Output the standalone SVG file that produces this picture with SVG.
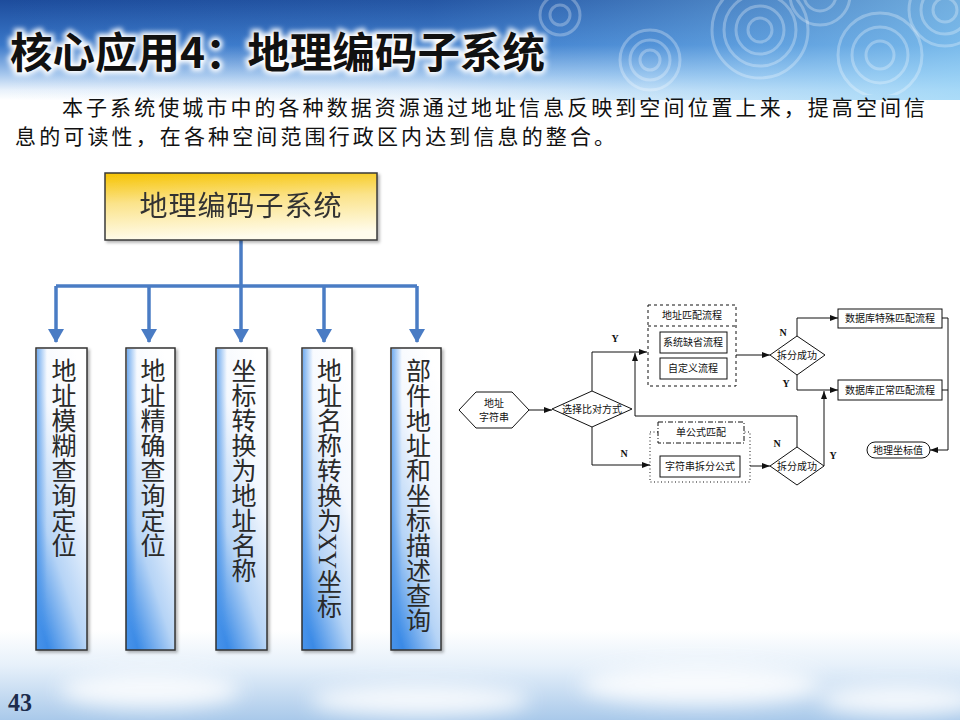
<svg xmlns="http://www.w3.org/2000/svg" width="960" height="720" viewBox="0 0 960 720">
<defs>
  <linearGradient id="topV" x1="0" y1="0" x2="0" y2="1">
    <stop offset="0" stop-color="#1d4c9c"/>
    <stop offset="0.45" stop-color="#3a78c9"/>
    <stop offset="0.75" stop-color="#a9c9ee"/>
    <stop offset="0.9" stop-color="#e8f1fb"/>
    <stop offset="1" stop-color="#ffffff"/>
  </linearGradient>
  <linearGradient id="topH" x1="0" y1="0" x2="1" y2="0">
    <stop offset="0" stop-color="#6fb4ec" stop-opacity="0"/>
    <stop offset="0.45" stop-color="#6fb4ec" stop-opacity="0.1"/>
    <stop offset="1" stop-color="#8fd0f6" stop-opacity="0.75"/>
  </linearGradient>
  <linearGradient id="botV" x1="0" y1="0" x2="0" y2="1">
    <stop offset="0" stop-color="#ffffff"/>
    <stop offset="0.4" stop-color="#e6f0fa"/>
    <stop offset="1" stop-color="#a9c9ea"/>
  </linearGradient>
  <linearGradient id="gold" x1="0" y1="0" x2="0.15" y2="1">
    <stop offset="0" stop-color="#f6c300"/>
    <stop offset="0.45" stop-color="#fbe38a"/>
    <stop offset="1" stop-color="#fffcec"/>
  </linearGradient>
  <linearGradient id="blueBar" x1="0.75" y1="0" x2="0.25" y2="1">
    <stop offset="0" stop-color="#ffffff"/>
    <stop offset="0.35" stop-color="#f4f8fe"/>
    <stop offset="0.7" stop-color="#b6d4f6"/>
    <stop offset="1" stop-color="#3a8ae6"/>
  </linearGradient>
  <linearGradient id="barEdge" x1="0" y1="0" x2="1" y2="0">
    <stop offset="0" stop-color="#4b95ea" stop-opacity="0.75"/>
    <stop offset="1" stop-color="#4b95ea" stop-opacity="0"/>
  </linearGradient>
  <filter id="glow" x="-10%" y="-30%" width="120%" height="160%">
    <feGaussianBlur stdDeviation="2.5"/>
  </filter>
  <filter id="cloud" x="-50%" y="-50%" width="200%" height="200%">
    <feGaussianBlur stdDeviation="10"/>
  </filter>
  <filter id="shadow" x="-10%" y="-10%" width="130%" height="130%">
    <feDropShadow dx="2" dy="2" stdDeviation="1.5" flood-color="#000" flood-opacity="0.3"/>
  </filter>
  <marker id="bigArrow" viewBox="0 0 14 16" refX="13" refY="8" markerWidth="14" markerHeight="16" markerUnits="userSpaceOnUse" orient="auto">
    <path d="M0,0 L14,8 L0,16 z" fill="#4a7cc4"/>
  </marker>
  <marker id="sArrow" viewBox="0 0 8 6" refX="8" refY="3" markerWidth="8" markerHeight="6" markerUnits="userSpaceOnUse" orient="auto">
    <path d="M0,0 L8,3 L0,6 z" fill="#111"/>
  </marker>
  <clipPath id="topClip"><rect x="0" y="0" width="960" height="95"/></clipPath>
</defs>
<style>
  .cjk { font-family: "Noto Sans CJK SC", "Noto Sans", sans-serif; }
  .bar { fill: url(#blueBar); stroke: #333; stroke-width: 1.5; }
  .vt { font-family: "Liberation Serif", "Noto Sans CJK SC", serif; font-size: 25px; fill: #2a2a2a; writing-mode: vertical-rl; }
  .blue { fill: none; stroke: #4a7cc4; stroke-width: 3.5; }
  .ln { fill: none; stroke: #111; stroke-width: 1; }
  .lnA { fill: none; stroke: #111; stroke-width: 1; marker-end: url(#sArrow); }
  .shape { fill: #fff; stroke: #111; stroke-width: 1; }
  .ft { font-family: "Noto Sans CJK SC", sans-serif; font-size: 10px; fill: #111; text-anchor: middle; }
  .yn { font-family: "Liberation Serif", serif; font-size: 10px; font-weight: bold; fill: #111; text-anchor: middle; }
  .ring { fill: none; stroke: #ffffff; stroke-opacity: 0.28; stroke-width: 3; }
</style>

<!-- background -->
<rect width="960" height="720" fill="#ffffff"/>
<rect x="0" y="0" width="960" height="100" fill="url(#topV)"/>
<rect x="0" y="0" width="960" height="100" fill="url(#topH)"/>
<g clip-path="url(#topClip)">
  <g class="ring">
    <circle cx="760" cy="30" r="12"/><circle cx="760" cy="30" r="24"/><circle cx="760" cy="30" r="36"/><circle cx="760" cy="30" r="48"/>
    <circle cx="880" cy="55" r="14"/><circle cx="880" cy="55" r="28"/><circle cx="880" cy="55" r="42"/>
    <circle cx="650" cy="60" r="10"/><circle cx="650" cy="60" r="20"/><circle cx="650" cy="60" r="30"/>
    <circle cx="945" cy="10" r="12"/><circle cx="945" cy="10" r="24"/><circle cx="945" cy="10" r="36"/>
    <circle cx="560" cy="15" r="10"/><circle cx="560" cy="15" r="20"/>
    <circle cx="820" cy="-5" r="16"/><circle cx="820" cy="-5" r="30"/>
  </g>
</g>
<rect x="0" y="630" width="960" height="90" fill="url(#botV)"/>
<g filter="url(#cloud)" fill="#ffffff" opacity="0.85">
  <ellipse cx="150" cy="690" rx="90" ry="18"/>
  <ellipse cx="420" cy="700" rx="110" ry="16"/>
  <ellipse cx="700" cy="685" rx="120" ry="20"/>
  <ellipse cx="900" cy="700" rx="80" ry="15"/>
</g>

<!-- title -->
<g id="title">
  <text x="10" y="68" class="cjk" font-size="42" font-weight="bold" textLength="535" lengthAdjust="spacingAndGlyphs" fill="#fff" stroke="#fff" stroke-width="6" filter="url(#glow)">核心应用4：地理编码子系统</text>
  <text x="10" y="68" class="cjk" font-size="42" font-weight="bold" textLength="535" lengthAdjust="spacingAndGlyphs" fill="#111">核心应用4：地理编码子系统</text>
</g>
<g id="intro" class="cjk" font-size="21" fill="#111">
  <text x="62" y="115" textLength="863" lengthAdjust="spacing">本子系统使城市中的各种数据资源通过地址信息反映到空间位置上来，提高空间信</text>
  <text x="15" y="144" textLength="600" lengthAdjust="spacing">息的可读性，在各种空间范围行政区内达到信息的整合。</text>
</g>

<!-- left tree connectors -->
<g id="tree-connectors">
  <path class="blue" d="M241,240 V286"/>
  <path class="blue" d="M56,286 H417"/>
  <path class="blue" d="M56,286 V342" marker-end="url(#bigArrow)"/>
  <path class="blue" d="M149,286 V342" marker-end="url(#bigArrow)"/>
  <path class="blue" d="M241,286 V342" marker-end="url(#bigArrow)"/>
  <path class="blue" d="M324,286 V342" marker-end="url(#bigArrow)"/>
  <path class="blue" d="M417,286 V342" marker-end="url(#bigArrow)"/>
</g>

<g id="root" filter="url(#shadow)">
  <rect x="105" y="173" width="272" height="67" fill="url(#gold)" stroke="#3a3a3a" stroke-width="1.5"/>
  <text x="241" y="216" class="cjk" font-size="28" fill="#333" text-anchor="middle" letter-spacing="1">地理编码子系统</text>
</g>

<g id="b1"><rect class="bar" x="36" y="348" width="51" height="302" filter="url(#shadow)"/><rect x="37" y="349" width="10" height="300" fill="url(#barEdge)"/><text class="vt" x="61.5" y="358">地址模糊查询定位</text></g>
<g id="b2"><rect class="bar" x="126" y="348" width="49" height="302" filter="url(#shadow)"/><rect x="127" y="349" width="10" height="300" fill="url(#barEdge)"/><text class="vt" x="150.5" y="358">地址精确查询定位</text></g>
<g id="b3"><rect class="bar" x="216" y="348" width="51" height="302" filter="url(#shadow)"/><rect x="217" y="349" width="10" height="300" fill="url(#barEdge)"/><text class="vt" x="241.5" y="358">坐标转换为地址名称</text></g>
<g id="b4"><rect class="bar" x="302" y="348" width="50" height="302" filter="url(#shadow)"/><rect x="303" y="349" width="10" height="300" fill="url(#barEdge)"/><text class="vt" x="327" y="358">地址名称转换为XY坐标</text></g>
<g id="b5"><rect class="bar" x="391" y="348" width="50" height="302" filter="url(#shadow)"/><rect x="392" y="349" width="10" height="300" fill="url(#barEdge)"/><text class="vt" x="416" y="358">部件地址和坐标描述查询</text></g>

<!-- flowchart connectors -->
<g id="flow-connectors">
  <path class="lnA" d="M529,410 H552"/>
  <path class="lnA" d="M592,391 V352 H647"/>
  <path class="lnA" d="M592,427 V465 H650"/>
  <path class="lnA" d="M736,355 H770"/>
  <path class="lnA" d="M797,336 V318 H838"/>
  <path class="lnA" d="M797,375 V390 H838"/>
  <path class="ln" d="M942,318 H948 V450"/>
  <path class="ln" d="M942,390 H948"/>
  <path class="lnA" d="M948,450 H930"/>
  <path class="lnA" d="M750,466 H770"/>
  <path class="lnA" d="M797,447 V416 H635 V353"/>
  <path class="lnA" d="M824,466 V391"/>
  <text class="yn" x="615" y="342">Y</text>
  <text class="yn" x="624" y="457">N</text>
  <text class="yn" x="783" y="336">N</text>
  <text class="yn" x="786" y="387">Y</text>
  <text class="yn" x="777" y="447">N</text>
  <text class="yn" x="833" y="459">Y</text>
</g>

<g id="f-input">
  <polygon class="shape" points="459,410 476,392 512,392 529,410 512,428 476,428"/>
  <text class="ft" x="494" y="407">地址</text>
  <text class="ft" x="494" y="421">字符串</text>
</g>
<g id="f-choose">
  <polygon class="shape" points="552,409 592,391 632,409 592,427"/>
  <text class="ft" x="592" y="413">选择比对方式</text>
</g>
<g id="f-match-group">
  <rect x="648" y="305" width="88" height="81" fill="none" stroke="#111" stroke-width="1" stroke-dasharray="3,3"/>
  <line x1="648" y1="326" x2="736" y2="326" stroke="#111" stroke-width="1" stroke-dasharray="3,3"/>
  <text class="ft" x="692" y="319">地址匹配流程</text>
</g>
<g id="f-default"><rect class="shape" x="660" y="332" width="67" height="21"/><text class="ft" x="693" y="346">系统缺省流程</text></g>
<g id="f-custom"><rect class="shape" x="660" y="358" width="67" height="21"/><text class="ft" x="693" y="372">自定义流程</text></g>
<g id="f-split-group">
  <rect x="650" y="432" width="100" height="50" fill="none" stroke="#111" stroke-width="1" stroke-dasharray="1,2.5"/>
</g>
<g id="f-single"><rect x="658" y="422" width="86" height="21" fill="#fff" stroke="#111" stroke-width="1" stroke-dasharray="5,2,1,2"/><text class="ft" x="701" y="436">单公式匹配</text></g>
<g id="f-splitformula"><rect class="shape" x="660" y="456" width="80" height="21"/><text class="ft" x="700" y="470">字符串拆分公式</text></g>
<g id="f-dec1"><polygon class="shape" points="770,355 797,336 825,355 797,375"/><text class="ft" x="797" y="359">拆分成功</text></g>
<g id="f-dec2"><polygon class="shape" points="770,466 797,447 824,466 797,485"/><text class="ft" x="797" y="470">拆分成功</text></g>
<g id="f-special"><rect class="shape" x="838" y="309" width="104" height="19"/><text class="ft" x="890" y="322">数据库特殊匹配流程</text></g>
<g id="f-normal"><rect class="shape" x="838" y="380" width="104" height="20"/><text class="ft" x="890" y="394">数据库正常匹配流程</text></g>
<g id="f-result"><rect class="shape" x="867" y="442" width="63" height="16" rx="8"/><text class="ft" x="898" y="454">地理坐标值</text></g>

<text id="page" x="8" y="711" font-family="Liberation Serif, serif" font-size="26" font-weight="bold" fill="#1c2c4c" textLength="24" lengthAdjust="spacingAndGlyphs">43</text>
</svg>
